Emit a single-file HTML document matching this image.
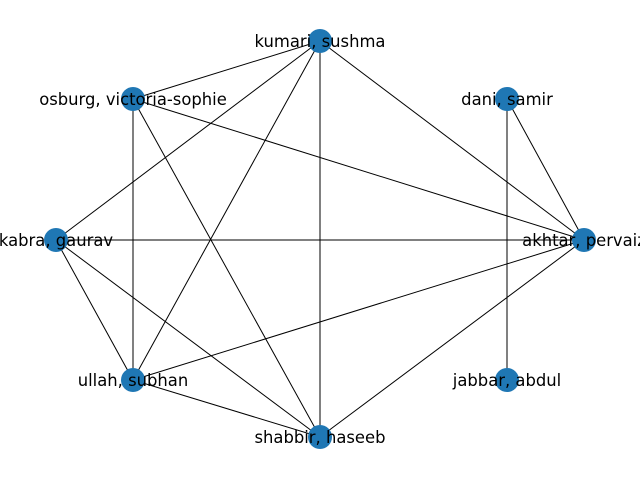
<!DOCTYPE html>
<html><head><meta charset="utf-8"><style>
html,body{margin:0;padding:0;background:#fff;width:640px;height:480px;overflow:hidden}
svg text{font-family:"DejaVu Sans","Liberation Sans",sans-serif;font-size:16.4px}
</style></head><body>
<svg id="chart" width="640" height="480" xmlns="http://www.w3.org/2000/svg"></svg>
<script>
const nodeNames = ["kumari, sushma","osburg, victoria-sophie","dani, samir","kabra, gaurav","akhtar, pervaiz","ullah, subhan","jabbar, abdul","shabbir, haseeb"];
const nodeX = [320,133,507,56,584,133,507,320];
const nodeY = [41,99,99,240,240,380,380,437];
const edgeSource = [0,0,0,0,0,1,1,1,2,2,3,3,3,4,4,5];
const edgeTarget = [1,4,3,5,7,4,5,7,4,6,4,5,7,5,7,7];
const NS="http://www.w3.org/2000/svg";
const svg=document.getElementById('chart');
const eg=document.createElementNS(NS,'g');


svg.appendChild(eg);
for(let i=0;i<edgeSource.length;i++){
  const a=edgeSource[i],b=edgeTarget[i];
  const l=document.createElementNS(NS,'line');
  l.setAttribute('x1',nodeX[a]);l.setAttribute('y1',nodeY[a]);
  l.setAttribute('x2',nodeX[b]);l.setAttribute('y2',nodeY[b]);
  l.setAttribute('stroke','#000');l.setAttribute('stroke-width','1');
  
  
  eg.appendChild(l);
}
const ng=document.createElementNS(NS,'g');


svg.appendChild(ng);
for(let i=0;i<nodeNames.length;i++){
  const c=document.createElementNS(NS,'circle');
  c.setAttribute('cx',nodeX[i]);c.setAttribute('cy',nodeY[i]);c.setAttribute('r','12');
  c.setAttribute('fill','#1f77b4');
  
  
  ng.appendChild(c);
}
for(let i=0;i<nodeNames.length;i++){
  const t=document.createElementNS(NS,'text');
  t.setAttribute('x',nodeX[i]);t.setAttribute('y',nodeY[i]+6);
  t.setAttribute('text-anchor','middle');
  t.textContent=nodeNames[i];
  
  
  ng.appendChild(t);
}
</script>
</body></html>
